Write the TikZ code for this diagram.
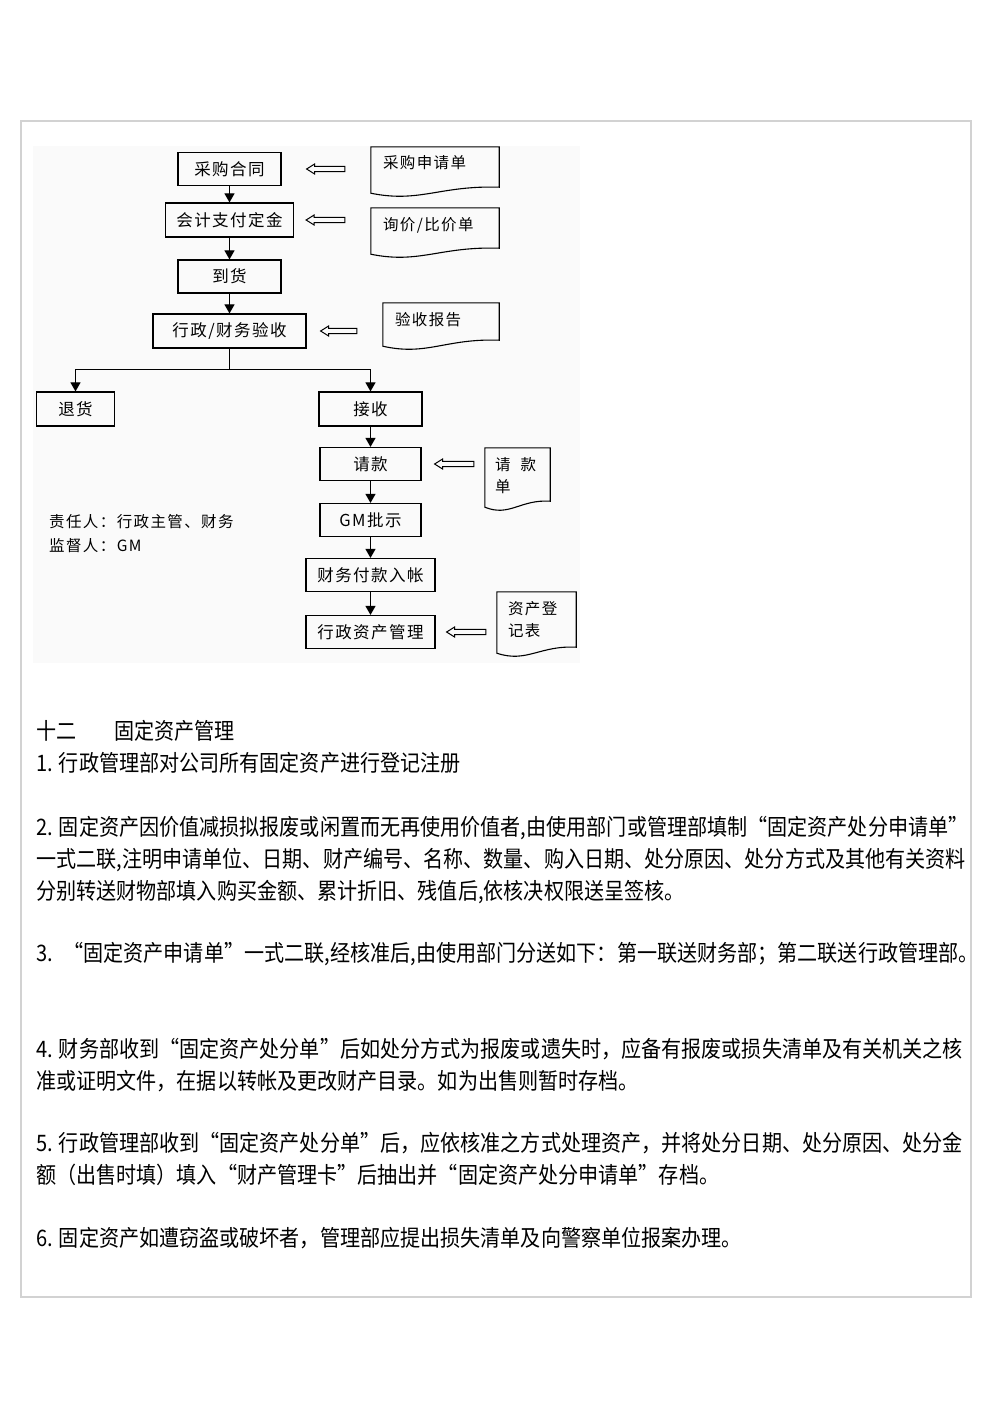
\documentclass[tikz,border=0pt]{standalone}
\usepackage{fontspec}
\newfontfamily\boxfont[LetterSpace=9]{Noto Sans CJK SC}
\newfontfamily\bodyfont[FakeStretch=0.885]{Noto Sans CJK SC}
\usetikzlibrary{positioning,calc,arrows.meta}

% 单据外框（下边为波浪线）
\newcommand\docframe[1]{%
  \draw[line width=1.1pt] (#1.north west) -- (#1.north east) -- (#1.south east)
    .. controls ($(#1.south east)!0.46!(#1.south west)+(0,-2)$) and ($(#1.south east)!0.62!(#1.south west)+(0,16)$)
    .. ($(#1.south west)+(0,6)$) -- cycle;}
% 空心箭头：#1 箭头尖，#2 箭尾
\newcommand\hollowarrow[2]{%
  \draw[hollow] (#1) -- ($(#1)+(8,-5)$) -- ($(#1)+(8,-2.6)$) -- ($(#2)+(0,-2.6)$)
    -- ($(#2)+(0,2.6)$) -- ($(#1)+(8,2.6)$) -- ($(#1)+(8,5)$) -- cycle;}

\begin{document}
\begin{tikzpicture}[x=1pt,y=-1pt,
    box/.style={draw,line width=1.2pt,minimum height=33pt,inner sep=0pt,font=\boxfont\fontsize{16.5}{20}\selectfont},
    docbox/.style={inner sep=0pt},
    doctext/.style={inner sep=0pt,align=left,font=\boxfont\fontsize{15.5}{22}\selectfont},
    flow/.style={line width=1.1pt,-{Triangle[length=9pt,width=10pt]}},
    hollow/.style={line width=1pt},
    body/.style={anchor=west,inner sep=0pt,font=\bodyfont\fontsize{22.7}{26}\selectfont}]
    \def\xl{229.5}
    \def\xr{370.5}

    \useasboundingbox (0,0) rectangle (992,1403);

    % 外框与流程图底色
    \draw[gray!35,line width=1.4pt] (21,121) rectangle (971,1297);
    \fill[black!2] (33,146) rectangle (580,663);

    % 流程框
    \node[box,minimum width=103pt] (cont) at (\xl,169) {采购合同};
    \node[box,minimum width=128pt,minimum height=34pt] (dep) at (\xl,220) {会计支付定金};
    \node[box,minimum width=103pt] (arr) at (\xl,276.5) {到货};
    \node[box,minimum width=153pt,minimum height=34pt] (insp) at (\xl,331) {行政/财务验收};
    \node[box,minimum width=78pt,minimum height=34pt] (ret) at (75.5,409) {退货};
    \node[box,minimum width=103pt,minimum height=34pt] (recv) at (\xr,409) {接收};
    \node[box,minimum width=101pt] (req) at (\xr,464) {请款};
    \node[box,minimum width=101pt] (gm) at (\xr,520) {GM批示};
    \node[box,minimum width=129pt] (pay) at (\xr,575) {财务付款入帐};
    \node[box,minimum width=129pt] (mgmt) at (\xr,632) {行政资产管理};

    % 单据
    \node[docbox,minimum width=128pt,minimum height=40pt] (dPur) at (435,167) {};
    \node[docbox,minimum width=128pt,minimum height=40pt] (dQuo) at (435,228) {};
    \node[docbox,minimum width=116pt,minimum height=37pt] (dAcc) at (441,321.5) {};
    \node[docbox,minimum width=65pt,minimum height=53pt] (dPay) at (517.5,474.5) {};
    \node[docbox,minimum width=79pt,minimum height=55pt] (dReg) at (536.5,619.5) {};
    \docframe{dPur}
    \docframe{dQuo}
    \docframe{dAcc}
    \docframe{dPay}
    \docframe{dReg}
    \node[doctext,below right=8pt and 12pt of dPur.north west] (tPur) {采购申请单};
    \node[doctext,below right=9pt and 12pt of dQuo.north west] (tQuo) {询价/比价单};
    \node[doctext,below right=9pt and 12pt of dAcc.north west] (tAcc) {验收报告};
    \node[doctext,below right=9pt and 10pt of dPay.north west] (tPay) {请\hspace{10pt}款\\单};
    \node[doctext,below right=9pt and 11pt of dReg.north west] (tReg) {资产登\\记表};

    % 流程箭头
    \draw[flow] (cont.south) -- (dep.north);
    \draw[flow] (dep.south) -- (arr.north);
    \draw[flow] (arr.south) -- (insp.north);
    \draw[line width=1.1pt] (insp.south) -- ++(0,21) coordinate (split);
    \draw[flow] (split) -| (ret.north);
    \draw[flow] (split) -| (recv.north);
    \draw[flow] (recv.south) -- (req.north);
    \draw[flow] (req.south) -- (gm.north);
    \draw[flow] (gm.south) -- (pay.north);
    \draw[flow] (pay.south) -- (mgmt.north);

    % 单据到流程框的空心箭头
    \coordinate (h1a) at ($(cont.east)+(25,0)$);
    \coordinate (h1b) at ($(dPur.west |- cont.east)+(-26,0)$);
    \coordinate (h2a) at ($(dep.east)+(12,0)$);
    \coordinate (h2b) at ($(dQuo.west |- dep.east)+(-26,0)$);
    \coordinate (h3a) at ($(insp.east)+(14,0)$);
    \coordinate (h3b) at ($(dAcc.west |- insp.east)+(-26,0)$);
    \coordinate (h4a) at ($(req.east)+(13,0)$);
    \coordinate (h4b) at ($(dPay.west |- req.east)+(-11,0)$);
    \coordinate (h5a) at ($(mgmt.east)+(11,0)$);
    \coordinate (h5b) at ($(dReg.west |- mgmt.east)+(-11,0)$);
    \hollowarrow{h1a}{h1b}
    \hollowarrow{h2a}{h2b}
    \hollowarrow{h3a}{h3b}
    \hollowarrow{h4a}{h4b}
    \hollowarrow{h5a}{h5b}

    % 责任人
    \node[anchor=west,inner sep=0pt,font=\boxfont\fontsize{15.5}{18}\selectfont] (note1) at (49,522) {责任人：行政主管、财务};
    \node[anchor=west,inner sep=0pt,font=\boxfont\fontsize{15.5}{18}\selectfont] (note2) at (49,546) {监督人：GM};

    % 正文
    \node[body] (t0) at (36,731) {十二\hspace{38pt}固定资产管理};
    \node[body] (t1) at (36,763) {1. 行政管理部对公司所有固定资产进行登记注册};
    \node[body] (t2) at (36,828) {2. 固定资产因价值减损拟报废或闲置而无再使用价值者,由使用部门或管理部填制“固定资产处分申请单”};
    \node[body] (t3) at (36,860) {一式二联,注明申请单位、日期、财产编号、名称、数量、购入日期、处分原因、处分方式及其他有关资料};
    \node[body] (t4) at (36,892) {分别转送财物部填入购买金额、累计折旧、残值后,依核决权限送呈签核。};
    \node[body] (t5) at (36,954) {3. \ “固定资产申请单”一式二联,经核准后,由使用部门分送如下：第一联送财务部；第二联送行政管理部。};
    \node[body] (t6) at (36,1049) {4. 财务部收到“固定资产处分单”后如处分方式为报废或遗失时，应备有报废或损失清单及有关机关之核};
    \node[body] (t7) at (36,1081) {准或证明文件，在据以转帐及更改财产目录。如为出售则暂时存档。};
    \node[body] (t8) at (36,1143) {5. 行政管理部收到“固定资产处分单”后，应依核准之方式处理资产，并将处分日期、处分原因、处分金};
    \node[body] (t9) at (36,1175) {额（出售时填）填入“财产管理卡”后抽出并“固定资产处分申请单”存档。};
    \node[body] (t10) at (36,1238) {6. 固定资产如遭窃盗或破坏者，管理部应提出损失清单及向警察单位报案办理。};
  \end{tikzpicture}
\end{document}
